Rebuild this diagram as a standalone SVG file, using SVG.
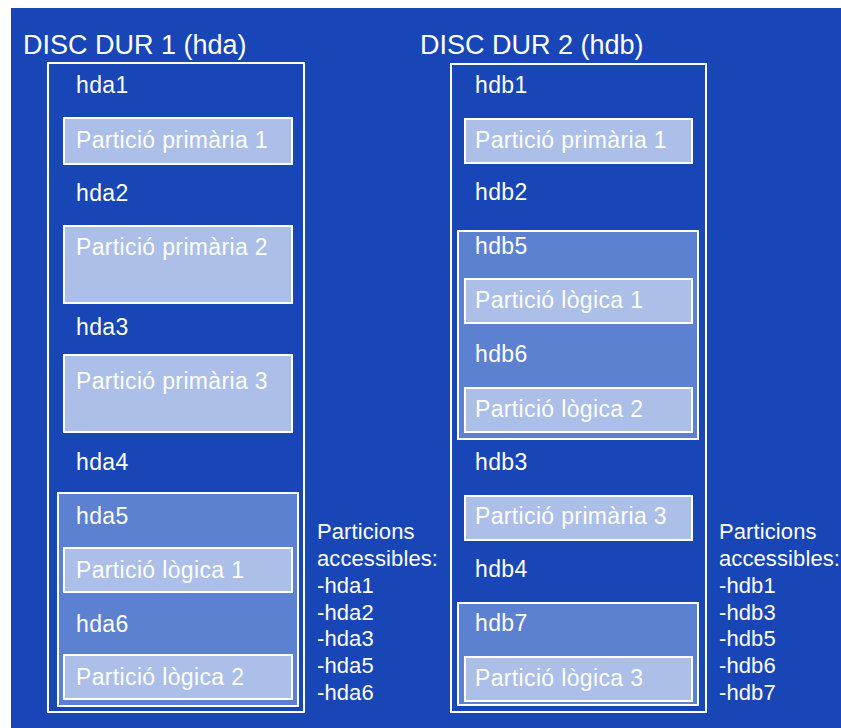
<svg xmlns="http://www.w3.org/2000/svg" width="841" height="728" viewBox="0 0 841 728">
  <style>
    .disk { fill: none; stroke: #ffffff; stroke-width: 2; }
    .ext { fill: #5d81d1; stroke: #ffffff; stroke-width: 2; }
    .part { fill: #abbfe8; stroke: #ffffff; stroke-width: 2; }
    text { font-family: "Liberation Sans", Arial, sans-serif; fill: #ffffff; }
    .title { font-size: 27px; }
    .lbl { font-size: 23px; letter-spacing: 0.35px; }
    .note { font-size: 22px; letter-spacing: 0.1px; }
  </style>

  <!-- page background -->
  <rect x="0" y="0" width="841" height="728" fill="#ffffff"/>
  <rect x="11" y="8" width="830" height="720" fill="#1846b7"/>

  <!-- hard disk 1 -->
  <g id="disk1">
    <text class="title" x="23" y="54">DISC DUR 1 (hda)</text>
    <rect class="disk" x="48" y="63" width="256" height="649"/>
    <text class="lbl" x="76" y="93">hda1</text>
  </g>
  <g id="hda-p1">
    <rect class="part" x="64" y="118" width="228" height="46"/>
    <text class="lbl" x="76" y="148">Partició primària 1</text>
  </g>
  <text class="lbl" x="76" y="201">hda2</text>
  <g id="hda-p2">
    <rect class="part" x="64" y="226" width="228" height="77"/>
    <text class="lbl" x="76" y="255">Partició primària 2</text>
  </g>
  <text class="lbl" x="76" y="335">hda3</text>
  <g id="hda-p3">
    <rect class="part" x="64" y="355" width="228" height="77"/>
    <text class="lbl" x="76" y="389">Partició primària 3</text>
  </g>
  <text class="lbl" x="76" y="470">hda4</text>
  <g id="hda-ext">
    <rect class="ext" x="58" y="493" width="240" height="213"/>
    <text class="lbl" x="76" y="524">hda5</text>
    <text class="lbl" x="76" y="632">hda6</text>
  </g>
  <g id="hda-l1">
    <rect class="part" x="64" y="548" width="228" height="44"/>
    <text class="lbl" x="76" y="578">Partició lògica 1</text>
  </g>
  <g id="hda-l2">
    <rect class="part" x="64" y="655" width="228" height="44"/>
    <text class="lbl" x="76" y="685">Partició lògica 2</text>
  </g>
  <g id="hda-list">
    <text class="note" x="317" y="539">Particions</text>
    <text class="note" x="317" y="566">accessibles:</text>
    <text class="note" x="317" y="593">-hda1</text>
    <text class="note" x="317" y="620">-hda2</text>
    <text class="note" x="317" y="646">-hda3</text>
    <text class="note" x="317" y="673">-hda5</text>
    <text class="note" x="317" y="700">-hda6</text>
  </g>

  <!-- hard disk 2 -->
  <g id="disk2">
    <text class="title" x="420" y="54">DISC DUR 2 (hdb)</text>
    <rect class="disk" x="451" y="64" width="255" height="648"/>
    <text class="lbl" x="475" y="93">hdb1</text>
  </g>
  <g id="hdb-p1">
    <rect class="part" x="465" y="119" width="227" height="44"/>
    <text class="lbl" x="475" y="148">Partició primària 1</text>
  </g>
  <text class="lbl" x="475" y="200">hdb2</text>
  <g id="hdb-ext1">
    <rect class="ext" x="458" y="231" width="240" height="208"/>
    <text class="lbl" x="475" y="254">hdb5</text>
    <text class="lbl" x="475" y="362">hdb6</text>
  </g>
  <g id="hdb-l1">
    <rect class="part" x="465" y="279" width="227" height="44"/>
    <text class="lbl" x="475" y="308">Partició lògica 1</text>
  </g>
  <g id="hdb-l2">
    <rect class="part" x="465" y="388" width="227" height="44"/>
    <text class="lbl" x="475" y="417">Partició lògica 2</text>
  </g>
  <text class="lbl" x="475" y="470">hdb3</text>
  <g id="hdb-p3">
    <rect class="part" x="465" y="496" width="227" height="44"/>
    <text class="lbl" x="475" y="524">Partició primària 3</text>
  </g>
  <text class="lbl" x="475" y="577">hdb4</text>
  <g id="hdb-ext2">
    <rect class="ext" x="458" y="603" width="240" height="102"/>
    <text class="lbl" x="475" y="631">hdb7</text>
  </g>
  <g id="hdb-l3">
    <rect class="part" x="465" y="657" width="227" height="44"/>
    <text class="lbl" x="475" y="686">Partició lògica 3</text>
  </g>
  <g id="hdb-list">
    <text class="note" x="719" y="539">Particions</text>
    <text class="note" x="719" y="566">accessibles:</text>
    <text class="note" x="719" y="593">-hdb1</text>
    <text class="note" x="719" y="620">-hdb3</text>
    <text class="note" x="719" y="646">-hdb5</text>
    <text class="note" x="719" y="673">-hdb6</text>
    <text class="note" x="719" y="700">-hdb7</text>
  </g>

  <!-- no connectors in this layout -->
  <g id="connectors"/>
</svg>
